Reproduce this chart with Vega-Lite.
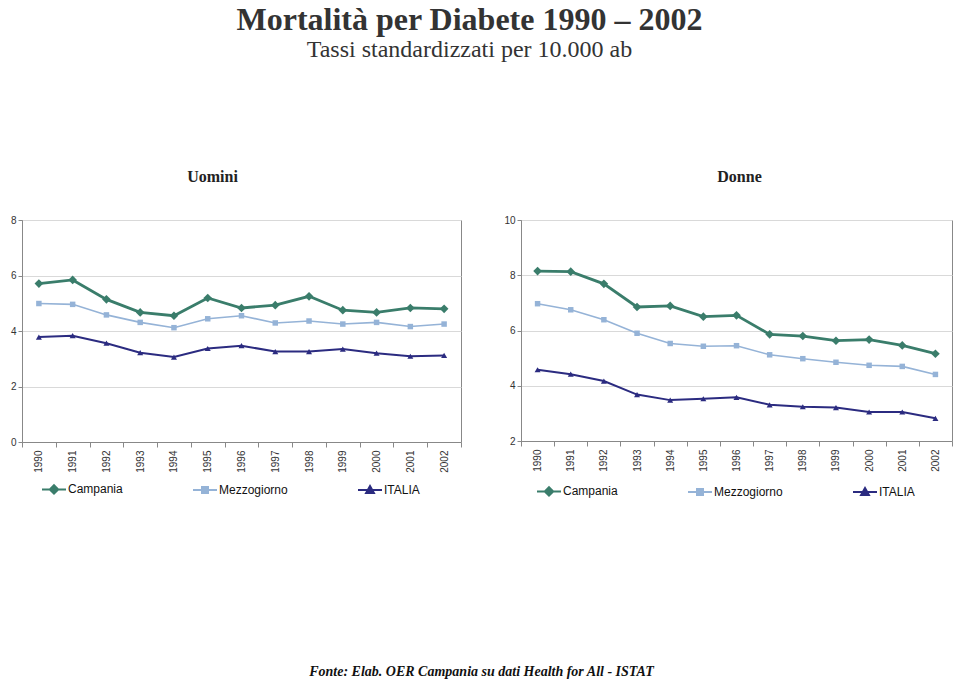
{
  "$schema": "https://vega.github.io/schema/vega-lite/v6.json",
  "background": "white",
  "padding": {"left": 9, "top": 3, "right": 0, "bottom": 2},
  "config": {
    "view": {"stroke": "#888888", "strokeWidth": 1},
    "axis": {"labelFont": "Liberation Sans", "labelFontSize": 10, "labelColor": "#333333", "domainColor": "#888888", "tickColor": "#888888", "title": null},
    "legend": {"labelFont": "Liberation Sans", "labelFontSize": 12, "labelColor": "#111111"}
  },
  "title": {
    "text": "Mortalità per Diabete 1990 – 2002",
    "subtitle": "Tassi standardizzati per 10.000 ab",
    "font": "Liberation Serif", "fontSize": 32, "fontWeight": "bold", "color": "#333333",
    "subtitleFont": "Liberation Serif", "subtitleFontSize": 24, "subtitleColor": "#333333", "subtitlePadding": 1,
    "anchor": "middle", "offset": 106, "dx": -12
  },
  "datasets": {
    "d": [
      {"panel": "Uomini", "year": "1990", "series": "Campania", "value": 5.71},
      {"panel": "Uomini", "year": "1991", "series": "Campania", "value": 5.84},
      {"panel": "Uomini", "year": "1992", "series": "Campania", "value": 5.14},
      {"panel": "Uomini", "year": "1993", "series": "Campania", "value": 4.67},
      {"panel": "Uomini", "year": "1994", "series": "Campania", "value": 4.55},
      {"panel": "Uomini", "year": "1995", "series": "Campania", "value": 5.19},
      {"panel": "Uomini", "year": "1996", "series": "Campania", "value": 4.83},
      {"panel": "Uomini", "year": "1997", "series": "Campania", "value": 4.93},
      {"panel": "Uomini", "year": "1998", "series": "Campania", "value": 5.25},
      {"panel": "Uomini", "year": "1999", "series": "Campania", "value": 4.75},
      {"panel": "Uomini", "year": "2000", "series": "Campania", "value": 4.67},
      {"panel": "Uomini", "year": "2001", "series": "Campania", "value": 4.83},
      {"panel": "Uomini", "year": "2002", "series": "Campania", "value": 4.80},
      {"panel": "Uomini", "year": "1990", "series": "Mezzogiorno", "value": 4.99},
      {"panel": "Uomini", "year": "1991", "series": "Mezzogiorno", "value": 4.96},
      {"panel": "Uomini", "year": "1992", "series": "Mezzogiorno", "value": 4.58},
      {"panel": "Uomini", "year": "1993", "series": "Mezzogiorno", "value": 4.31},
      {"panel": "Uomini", "year": "1994", "series": "Mezzogiorno", "value": 4.12},
      {"panel": "Uomini", "year": "1995", "series": "Mezzogiorno", "value": 4.44},
      {"panel": "Uomini", "year": "1996", "series": "Mezzogiorno", "value": 4.55},
      {"panel": "Uomini", "year": "1997", "series": "Mezzogiorno", "value": 4.29},
      {"panel": "Uomini", "year": "1998", "series": "Mezzogiorno", "value": 4.36},
      {"panel": "Uomini", "year": "1999", "series": "Mezzogiorno", "value": 4.25},
      {"panel": "Uomini", "year": "2000", "series": "Mezzogiorno", "value": 4.31},
      {"panel": "Uomini", "year": "2001", "series": "Mezzogiorno", "value": 4.16},
      {"panel": "Uomini", "year": "2002", "series": "Mezzogiorno", "value": 4.25},
      {"panel": "Uomini", "year": "1990", "series": "ITALIA", "value": 3.78},
      {"panel": "Uomini", "year": "1991", "series": "ITALIA", "value": 3.83},
      {"panel": "Uomini", "year": "1992", "series": "ITALIA", "value": 3.56},
      {"panel": "Uomini", "year": "1993", "series": "ITALIA", "value": 3.22},
      {"panel": "Uomini", "year": "1994", "series": "ITALIA", "value": 3.06},
      {"panel": "Uomini", "year": "1995", "series": "ITALIA", "value": 3.37},
      {"panel": "Uomini", "year": "1996", "series": "ITALIA", "value": 3.47},
      {"panel": "Uomini", "year": "1997", "series": "ITALIA", "value": 3.26},
      {"panel": "Uomini", "year": "1998", "series": "ITALIA", "value": 3.26},
      {"panel": "Uomini", "year": "1999", "series": "ITALIA", "value": 3.35},
      {"panel": "Uomini", "year": "2000", "series": "ITALIA", "value": 3.20},
      {"panel": "Uomini", "year": "2001", "series": "ITALIA", "value": 3.09},
      {"panel": "Uomini", "year": "2002", "series": "ITALIA", "value": 3.12},
      {"panel": "Donne", "year": "1990", "series": "Campania", "value": 8.15},
      {"panel": "Donne", "year": "1991", "series": "Campania", "value": 8.13},
      {"panel": "Donne", "year": "1992", "series": "Campania", "value": 7.69},
      {"panel": "Donne", "year": "1993", "series": "Campania", "value": 6.85},
      {"panel": "Donne", "year": "1994", "series": "Campania", "value": 6.89},
      {"panel": "Donne", "year": "1995", "series": "Campania", "value": 6.50},
      {"panel": "Donne", "year": "1996", "series": "Campania", "value": 6.55},
      {"panel": "Donne", "year": "1997", "series": "Campania", "value": 5.86},
      {"panel": "Donne", "year": "1998", "series": "Campania", "value": 5.80},
      {"panel": "Donne", "year": "1999", "series": "Campania", "value": 5.63},
      {"panel": "Donne", "year": "2000", "series": "Campania", "value": 5.67},
      {"panel": "Donne", "year": "2001", "series": "Campania", "value": 5.46},
      {"panel": "Donne", "year": "2002", "series": "Campania", "value": 5.16},
      {"panel": "Donne", "year": "1990", "series": "Mezzogiorno", "value": 6.97},
      {"panel": "Donne", "year": "1991", "series": "Mezzogiorno", "value": 6.75},
      {"panel": "Donne", "year": "1992", "series": "Mezzogiorno", "value": 6.39},
      {"panel": "Donne", "year": "1993", "series": "Mezzogiorno", "value": 5.90},
      {"panel": "Donne", "year": "1994", "series": "Mezzogiorno", "value": 5.53},
      {"panel": "Donne", "year": "1995", "series": "Mezzogiorno", "value": 5.43},
      {"panel": "Donne", "year": "1996", "series": "Mezzogiorno", "value": 5.45},
      {"panel": "Donne", "year": "1997", "series": "Mezzogiorno", "value": 5.12},
      {"panel": "Donne", "year": "1998", "series": "Mezzogiorno", "value": 4.98},
      {"panel": "Donne", "year": "1999", "series": "Mezzogiorno", "value": 4.85},
      {"panel": "Donne", "year": "2000", "series": "Mezzogiorno", "value": 4.74},
      {"panel": "Donne", "year": "2001", "series": "Mezzogiorno", "value": 4.70},
      {"panel": "Donne", "year": "2002", "series": "Mezzogiorno", "value": 4.41},
      {"panel": "Donne", "year": "1990", "series": "ITALIA", "value": 4.58},
      {"panel": "Donne", "year": "1991", "series": "ITALIA", "value": 4.42},
      {"panel": "Donne", "year": "1992", "series": "ITALIA", "value": 4.17},
      {"panel": "Donne", "year": "1993", "series": "ITALIA", "value": 3.68},
      {"panel": "Donne", "year": "1994", "series": "ITALIA", "value": 3.48},
      {"panel": "Donne", "year": "1995", "series": "ITALIA", "value": 3.53},
      {"panel": "Donne", "year": "1996", "series": "ITALIA", "value": 3.58},
      {"panel": "Donne", "year": "1997", "series": "ITALIA", "value": 3.31},
      {"panel": "Donne", "year": "1998", "series": "ITALIA", "value": 3.24},
      {"panel": "Donne", "year": "1999", "series": "ITALIA", "value": 3.21},
      {"panel": "Donne", "year": "2000", "series": "ITALIA", "value": 3.05},
      {"panel": "Donne", "year": "2001", "series": "ITALIA", "value": 3.05},
      {"panel": "Donne", "year": "2002", "series": "ITALIA", "value": 2.82}
    ]
  },
  "vconcat": [
    {
      "title": {"text": "Fonte: Elab. OER Campania su dati Health for All - ISTAT", "orient": "bottom", "anchor": "middle", "font": "Liberation Serif", "fontStyle": "italic", "fontWeight": "bold", "fontSize": 14, "color": "#111111", "offset": 164},
      "spacing": 41,
      "resolve": {
        "scale": {"x": "independent", "y": "independent", "color": "independent", "fill": "independent", "stroke": "independent", "shape": "independent"},
        "legend": {"fill": "independent", "stroke": "independent", "shape": "independent"}
      },
      "hconcat": [
        {
          "title": {"text": "Uomini", "font": "Liberation Serif", "fontSize": 16, "fontWeight": "bold", "color": "#222222", "anchor": "middle", "frame": "group", "dx": -29, "offset": 30},
          "width": 439,
          "height": 222,
          "data": {"name": "d"},
          "transform": [{"filter": "datum.panel === 'Uomini'"}],
          "encoding": {
            "x": {"field": "year", "type": "ordinal", "scale": {"type": "band", "paddingInner": 0, "paddingOuter": 0}, "axis": {"labelAngle": -90, "tickBand": "extent", "tickSize": 5, "labelPadding": 3, "grid": false}},
            "y": {"field": "value", "type": "quantitative", "scale": {"domain": [0, 8], "nice": false, "zero": false}, "axis": {"values": [0, 2, 4, 6, 8], "grid": true, "gridColor": "#d9d9d9", "tickSize": 4, "labelPadding": 2}}
          },
          "layer": [
            {"transform": [{"filter": "datum.series === 'Mezzogiorno'"}], "mark": {"type": "line", "strokeWidth": 1.6, "color": "#95b3d7"}},
            {"transform": [{"filter": "datum.series === 'ITALIA'"}], "mark": {"type": "line", "strokeWidth": 2, "color": "#2b2b80"}},
            {"transform": [{"filter": "datum.series === 'Campania'"}], "mark": {"type": "line", "strokeWidth": 2.8, "color": "#3a7d6b"}},
            {"transform": [{"filter": "datum.series === 'Mezzogiorno'"}], "mark": {"type": "point", "shape": "square", "filled": true, "opacity": 1, "size": 30, "color": "#95b3d7"}},
            {"transform": [{"filter": "datum.series === 'ITALIA'"}], "mark": {"type": "point", "shape": "triangle-up", "filled": true, "opacity": 1, "size": 36, "color": "#2b2b80"}},
            {"transform": [{"filter": "datum.series === 'Campania'"}], "mark": {"type": "point", "shape": "diamond", "filled": true, "opacity": 1, "size": 75, "color": "#3a7d6b"}},
            {
              "transform": [{"filter": "datum.value < -100"}],
              "mark": {"type": "point", "filled": true, "opacity": 1, "strokeWidth": 2},
              "encoding": {
                "shape": {"field": "series", "type": "nominal", "scale": {"domain": ["Campania", "Mezzogiorno", "ITALIA"], "range": ["M-4,0L4,0M0,-1.4L1.4,0L0,1.4L-1.4,0Z", "M-4,0L4,0M-1,-1L1,-1L1,1L-1,1Z", "M-4,0L4,0M0,-1.3L1.3,1L-1.3,1Z"]}, "legend": {"title": null, "orient": "none", "legendX": 26, "legendY": 263, "direction": "horizontal", "columns": 3, "symbolSize": 36, "symbolStrokeWidth": 2, "labelOffset": 8, "columnPadding": 66}},
                "fill": {"field": "series", "type": "nominal", "scale": {"domain": ["Campania", "Mezzogiorno", "ITALIA"], "range": ["#3a7d6b", "#95b3d7", "#2b2b80"]}, "legend": {"title": null, "orient": "none", "legendX": 26, "legendY": 263, "direction": "horizontal", "columns": 3, "symbolSize": 36, "symbolStrokeWidth": 2, "labelOffset": 8, "columnPadding": 66}},
                "stroke": {"field": "series", "type": "nominal", "scale": {"domain": ["Campania", "Mezzogiorno", "ITALIA"], "range": ["#3a7d6b", "#95b3d7", "#2b2b80"]}, "legend": {"title": null, "orient": "none", "legendX": 26, "legendY": 263, "direction": "horizontal", "columns": 3, "symbolSize": 36, "symbolStrokeWidth": 2, "labelOffset": 8, "columnPadding": 66}}
              }
            }
          ]
        },
        {
          "title": {"text": "Donne", "font": "Liberation Serif", "fontSize": 16, "fontWeight": "bold", "color": "#222222", "anchor": "middle", "frame": "group", "dx": 3, "offset": 30},
          "width": 431,
          "height": 221,
          "data": {"name": "d"},
          "transform": [{"filter": "datum.panel === 'Donne'"}],
          "encoding": {
            "x": {"field": "year", "type": "ordinal", "scale": {"type": "band", "paddingInner": 0, "paddingOuter": 0}, "axis": {"labelAngle": -90, "tickBand": "extent", "tickSize": 5, "labelPadding": 3, "grid": false}},
            "y": {"field": "value", "type": "quantitative", "scale": {"domain": [2, 10], "nice": false, "zero": false}, "axis": {"values": [2, 4, 6, 8, 10], "grid": true, "gridColor": "#d9d9d9", "tickSize": 4, "labelPadding": 2}}
          },
          "layer": [
            {"transform": [{"filter": "datum.series === 'Mezzogiorno'"}], "mark": {"type": "line", "strokeWidth": 1.6, "color": "#95b3d7"}},
            {"transform": [{"filter": "datum.series === 'ITALIA'"}], "mark": {"type": "line", "strokeWidth": 2, "color": "#2b2b80"}},
            {"transform": [{"filter": "datum.series === 'Campania'"}], "mark": {"type": "line", "strokeWidth": 2.8, "color": "#3a7d6b"}},
            {"transform": [{"filter": "datum.series === 'Mezzogiorno'"}], "mark": {"type": "point", "shape": "square", "filled": true, "opacity": 1, "size": 30, "color": "#95b3d7"}},
            {"transform": [{"filter": "datum.series === 'ITALIA'"}], "mark": {"type": "point", "shape": "triangle-up", "filled": true, "opacity": 1, "size": 36, "color": "#2b2b80"}},
            {"transform": [{"filter": "datum.series === 'Campania'"}], "mark": {"type": "point", "shape": "diamond", "filled": true, "opacity": 1, "size": 75, "color": "#3a7d6b"}},
            {
              "transform": [{"filter": "datum.value < -100"}],
              "mark": {"type": "point", "filled": true, "opacity": 1, "strokeWidth": 2},
              "encoding": {
                "shape": {"field": "series", "type": "nominal", "scale": {"domain": ["Campania", "Mezzogiorno", "ITALIA"], "range": ["M-4,0L4,0M0,-1.4L1.4,0L0,1.4L-1.4,0Z", "M-4,0L4,0M-1,-1L1,-1L1,1L-1,1Z", "M-4,0L4,0M0,-1.3L1.3,1L-1.3,1Z"]}, "legend": {"title": null, "orient": "none", "legendX": 22, "legendY": 265, "direction": "horizontal", "columns": 3, "symbolSize": 36, "symbolStrokeWidth": 2, "labelOffset": 8, "columnPadding": 66}},
                "fill": {"field": "series", "type": "nominal", "scale": {"domain": ["Campania", "Mezzogiorno", "ITALIA"], "range": ["#3a7d6b", "#95b3d7", "#2b2b80"]}, "legend": {"title": null, "orient": "none", "legendX": 22, "legendY": 265, "direction": "horizontal", "columns": 3, "symbolSize": 36, "symbolStrokeWidth": 2, "labelOffset": 8, "columnPadding": 66}},
                "stroke": {"field": "series", "type": "nominal", "scale": {"domain": ["Campania", "Mezzogiorno", "ITALIA"], "range": ["#3a7d6b", "#95b3d7", "#2b2b80"]}, "legend": {"title": null, "orient": "none", "legendX": 22, "legendY": 265, "direction": "horizontal", "columns": 3, "symbolSize": 36, "symbolStrokeWidth": 2, "labelOffset": 8, "columnPadding": 66}}
              }
            }
          ]
        }
      ]
    }
  ]
}
